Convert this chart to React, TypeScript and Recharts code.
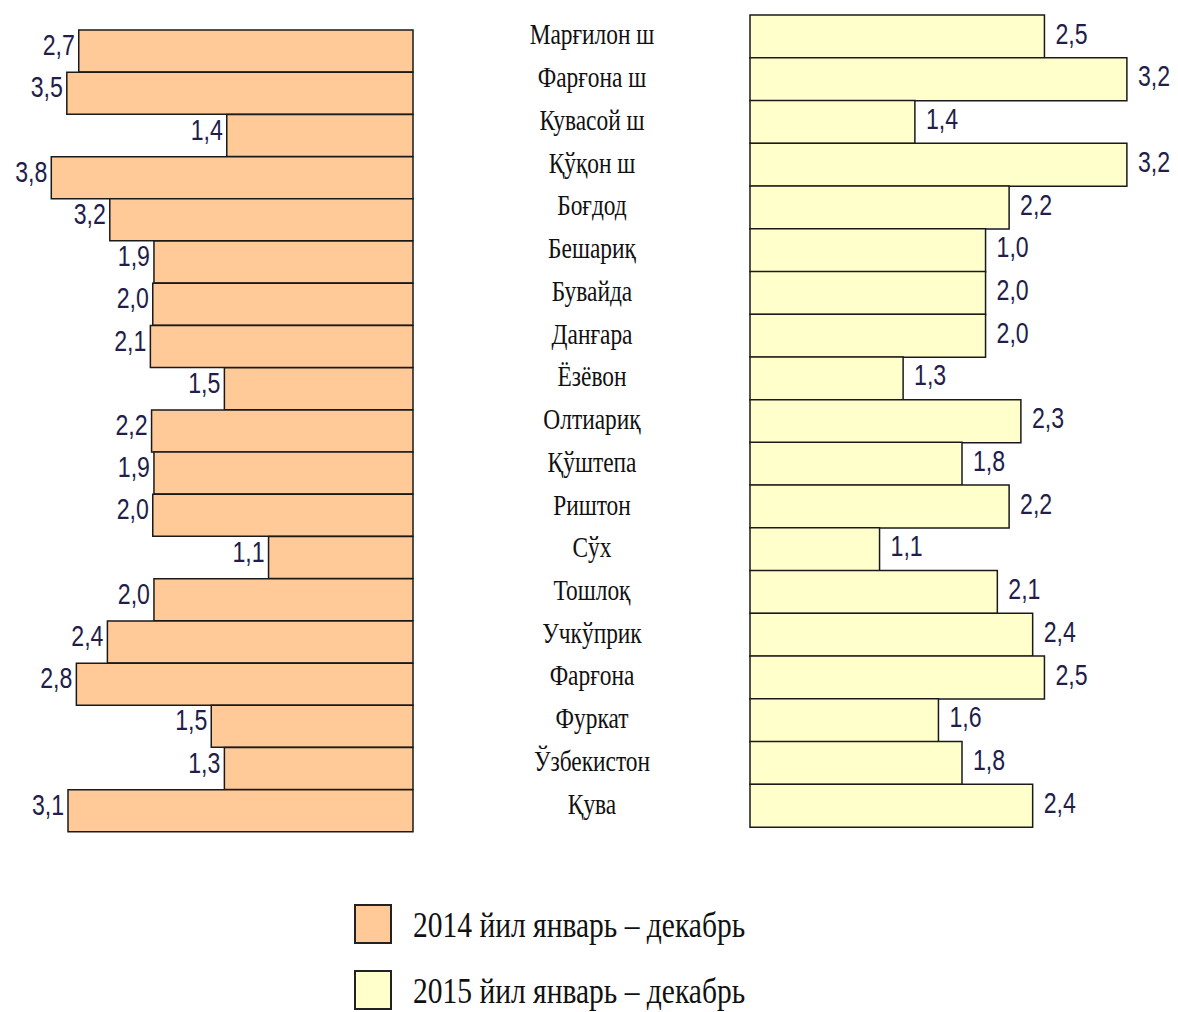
import React from 'react'
import { BarChart, Bar, XAxis, YAxis, LabelList } from 'recharts'

const regions = [
  'Марғилон ш', 'Фарғона ш', 'Кувасой ш', 'Қўқон ш', 'Боғдод', 'Бешариқ', 'Бувайда',
  'Данғара', 'Ёзёвон', 'Олтиариқ', 'Қўштепа', 'Риштон', 'Сўх', 'Тошлоқ',
  'Учкўприк', 'Фарғона', 'Фуркат', 'Ўзбекистон', 'Қува',
]

// 2014: bar lengths as drawn in the picture, and the numbers printed next to them
const bars2014 = [2.80, 2.90, 1.56, 3.03, 2.54, 2.17, 2.18, 2.20, 1.58, 2.19, 2.17, 2.18, 1.21, 2.17, 2.56, 2.82, 1.69, 1.58, 2.89]
const labels2014 = ['2,7', '3,5', '1,4', '3,8', '3,2', '1,9', '2,0', '2,1', '1,5', '2,2', '1,9', '2,0', '1,1', '2,0', '2,4', '2,8', '1,5', '1,3', '3,1']

// 2015
const values2015 = [2.5, 3.2, 1.4, 3.2, 2.2, 2.0, 2.0, 2.0, 1.3, 2.3, 1.8, 2.2, 1.1, 2.1, 2.4, 2.5, 1.6, 1.8, 2.4]
const labels2015 = ['2,5', '3,2', '1,4', '3,2', '2,2', '1,0', '2,0', '2,0', '1,3', '2,3', '1,8', '2,2', '1,1', '2,1', '2,4', '2,5', '1,6', '1,8', '2,4']

const legendNames = ['2014 йил январь – декабрь', '2015 йил январь – декабрь']

const COLOR_2014 = '#FFCA98'
const COLOR_2015 = '#FFFFCC'
const SANS = "'Liberation Sans', Arial, sans-serif"
const SERIF = "'Liberation Serif', 'Times New Roman', serif"
const NUM_COLOR = '#221d4a'

const data = regions.map((name, i) => ({
  name,
  v2014: bars2014[i],
  l2014: labels2014[i],
  v2015: values2015[i],
  l2015: labels2015[i],
}))

const box = (p: any) => {
  const vb = p.viewBox || p
  const x = Number(vb.x)
  const w = Number(vb.width)
  const y = Number(vb.y)
  const h = Number(vb.height)
  return { left: Math.min(x, x + w), right: Math.max(x, x + w), cy: y + h / 2 }
}

const LeftValue = (p: any) => {
  const { left, cy } = box(p)
  return (
    <text
      transform={`translate(${left - 4},${cy - 6}) scale(0.77,1)`}
      textAnchor="end"
      dominantBaseline="central"
      fontFamily={SANS}
      fontSize={30}
      fill={NUM_COLOR}
    >
      {p.value}
    </text>
  )
}

const RightValue = (p: any) => {
  const { right, cy } = box(p)
  return (
    <text
      transform={`translate(${right + 11},${cy - 3}) scale(0.77,1)`}
      textAnchor="start"
      dominantBaseline="central"
      fontFamily={SANS}
      fontSize={30}
      fill={NUM_COLOR}
    >
      {p.value}
    </text>
  )
}

const CAT_X = 112

const CategoryTick = (p: any) => (
  <text
    transform={`translate(${CAT_X},${Number(p.y) - 2}) scale(0.78,1)`}
    textAnchor="middle"
    dominantBaseline="central"
    fontFamily={SERIF}
    fontSize={30}
    fill="#111"
  >
    {p.payload.value}
  </text>
)

export default function App() {
  return (
    <div style={{ position: 'absolute', left: 0, top: 0, width: 1178, height: 1012, background: 'white', overflow: 'hidden' }}>
      {/* 2014, bars grow to the left */}
      <div style={{ position: 'absolute', left: 0, top: 0 }}>
        <BarChart
          width={420}
          height={842}
          data={data}
          layout="vertical"
          barCategoryGap={0}
          margin={{ top: 30, right: 7, bottom: 10, left: 31 }}
        >
          <XAxis type="number" domain={[0, 3.2]} reversed hide />
          <YAxis type="category" dataKey="name" hide width={0} />
          <Bar dataKey="v2014" fill={COLOR_2014} stroke="#1a1a1a" strokeWidth={1.5} isAnimationActive={false}>
            <LabelList dataKey="l2014" content={(p: any) => <LeftValue {...p} />} />
          </Bar>
        </BarChart>
      </div>

      {/* 2015, bars grow to the right, region names on its axis */}
      <div style={{ position: 'absolute', left: 480, top: 0 }}>
        <BarChart
          width={694}
          height={842}
          data={data}
          layout="vertical"
          barCategoryGap={0}
          margin={{ top: 15, right: 0, bottom: 15, left: 0 }}
        >
          <XAxis type="number" domain={[0, 3.6]} hide />
          <YAxis
            type="category"
            dataKey="name"
            width={270}
            axisLine={false}
            tickLine={false}
            interval={0}
            tick={(p: any) => <CategoryTick {...p} />}
          />
          <Bar dataKey="v2015" fill={COLOR_2015} stroke="#1a1a1a" strokeWidth={1.5} isAnimationActive={false}>
            <LabelList dataKey="l2015" content={(p: any) => <RightValue {...p} />} />
          </Bar>
        </BarChart>
      </div>

      {/* legend */}
      <svg style={{ position: 'absolute', left: 340, top: 890 }} width={480} height={122}>
        {legendNames.map((name, i) => (
          <g key={name}>
            <rect
              x={15}
              y={15 + i * 66}
              width={36}
              height={38}
              fill={i === 0 ? COLOR_2014 : COLOR_2015}
              stroke="#222"
              strokeWidth={2}
            />
            <text
              transform={`translate(73,${35 + i * 66}) scale(0.82,1)`}
              dominantBaseline="central"
              fontFamily={SERIF}
              fontSize={36}
              fill="#111"
            >
              {name}
            </text>
          </g>
        ))}
      </svg>
    </div>
  )
}
